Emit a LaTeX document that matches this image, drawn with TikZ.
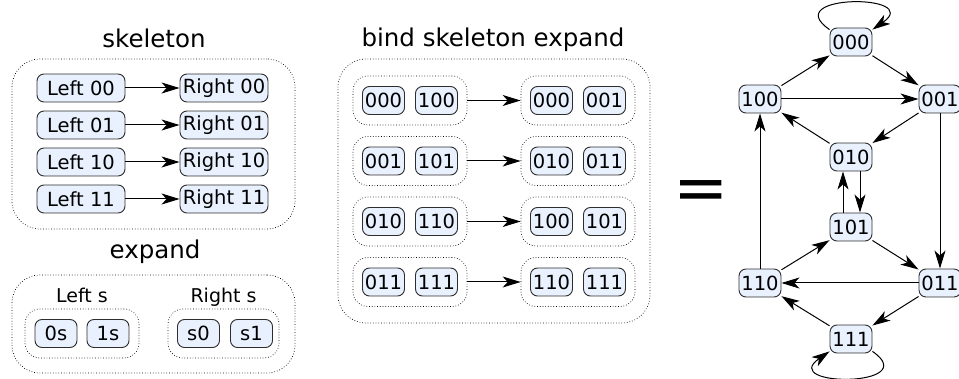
\documentclass[tikz,border=0pt]{standalone}
\usepackage{fontspec}
\setmainfont{DejaVu Sans}
\usetikzlibrary{arrows.meta}
\definecolor{nodefill}{RGB}{233,241,254}
\definecolor{nodeline}{RGB}{45,45,45}
\tikzset{
  state/.style={draw=nodeline, fill=nodefill, rounded corners=7pt, line width=0.9pt,
    inner xsep=2pt, inner ysep=3pt, minimum height=28pt, minimum width=42pt,
    font=\fontsize{19.5}{21}\selectfont},
  wide/.style={state, minimum width=88pt},
  group/.style={draw, dotted, line width=0.7pt, rounded corners=#1},
  group/.default=15pt,
  title/.style={anchor=base, font=\fontsize{24.5}{28}\selectfont},
  sublabel/.style={anchor=base, font=\fontsize{19}{21}\selectfont},
  link/.style={-{Stealth[length=18pt,width=11pt,inset=5pt]}, line width=1pt}
}
\begin{document}
\begin{tikzpicture}[x=1pt, y=-1pt]
  \useasboundingbox (0,0) rectangle (959,379);

  % skeleton
  \node[title] (skeltitle) at (154,48) {skeleton};
  \node[group=28pt, minimum width=283pt, minimum height=170pt] (skel) at (153.5,144) {};
  \foreach \s [count=\i] in {00,01,10,11} {
    \pgfmathsetmacro\y{88+(\i-1)*37}
    \node[wide] (L\i) at (81,\y) {Left \s};
    \node[wide] (R\i) at (224,\y) {Right \s};
    \draw[link] (L\i) -- (R\i);
  }

  % expand
  \node[title] (exptitle) at (155,259) {expand};
  \node[group=28pt, minimum width=283pt, minimum height=98pt] (exp) at (153.5,324) {};
  \node[sublabel] (lefts) at (82,303) {Left s};
  \node[sublabel] (rights) at (223.5,303) {Right s};
  \node[group, minimum width=114pt, minimum height=49pt] (expl) at (82,333.5) {};
  \node[group, minimum width=111pt, minimum height=49pt] (expr) at (223.5,333.5) {};
  \node[state] (e0s) at (56,333.5) {0s};
  \node[state] (e1s) at (108,333.5) {1s};
  \node[state] (es0) at (198.5,333.5) {s0};
  \node[state] (es1) at (251.5,333.5) {s1};

  % bind skeleton expand
  \node[title] (bindtitle) at (493,47) {bind skeleton expand};
  \node[group=28pt, minimum width=312pt, minimum height=264pt] (bind) at (494,191) {};
  \foreach \a/\b/\c/\d [count=\i] in {000/100/000/001, 001/101/010/011, 010/110/100/101, 011/111/110/111} {
    \pgfmathsetmacro\y{100.5+(\i-1)*60.5}
    \node[group, minimum width=114pt, minimum height=49pt] (bl\i) at (410,\y) {};
    \node[group, minimum width=114pt, minimum height=49pt] (br\i) at (578,\y) {};
    \node[state] (ba\i) at (383.5,\y) {\a};
    \node[state] (bb\i) at (436.5,\y) {\b};
    \node[state] (bc\i) at (551.5,\y) {\c};
    \node[state] (bd\i) at (604.5,\y) {\d};
    \draw[link] (bl\i) -- (br\i);
  }

  \node[font=\fontsize{66}{66}\selectfont] (eq) at (701.5,196) {=};

  % graph
  \node[state] (n000) at (851,42) {000};
  \node[state] (n100) at (760,99) {100};
  \node[state] (n001) at (940,99) {001};
  \node[state] (n010) at (851,157) {010};
  \node[state] (n101) at (851,227) {101};
  \node[state] (n110) at (760,283) {110};
  \node[state] (n011) at (940,283) {011};
  \node[state] (n111) at (851,339) {111};

  \draw[link] (n000.150) .. controls +(-52,-36) and +(52,-36) .. (n000.30);
  \draw[link] (n100) -- (n000);
  \draw[link] (n000) -- (n001);
  \draw[link] (n100) -- (n001);
  \draw[link] (n001) -- (n010);
  \draw[link] (n010) -- (n100);
  \draw[link] ([xshift=9pt]n010.south) -- ([xshift=9pt]n101.north);
  \draw[link] ([xshift=-8pt]n101.north) -- ([xshift=-8pt]n010.south);
  \draw[link] (n110.north) -- (n100.south);
  \draw[link] (n001.south) -- (n011.north);
  \draw[link] (n110) -- (n101);
  \draw[link] (n101) -- (n011);
  \draw[link] (n011) -- (n110);
  \draw[link] (n011) -- (n111);
  \draw[link] (n111) -- (n110);
  \draw[link] (n111.-30) .. controls +(52,36) and +(-52,36) .. (n111.-150);
\end{tikzpicture}
\end{document}
